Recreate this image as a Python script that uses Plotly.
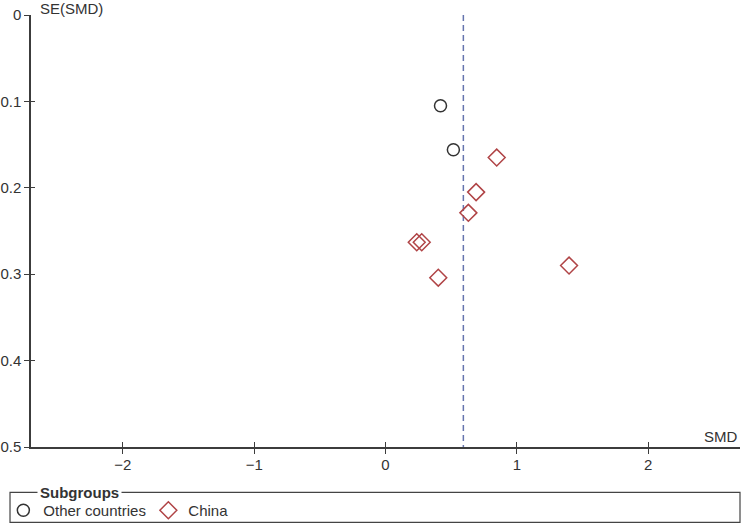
import plotly.graph_objects as go

# funnel plot data (SMD vs SE)
other_smd = [0.419, 0.517]
other_se = [0.105, 0.156]
china_smd = [0.847, 0.690, 0.631, 0.238, 0.276, 0.402, 1.398]
china_se = [0.165, 0.205, 0.229, 0.263, 0.263, 0.304, 0.290]
pooled_smd = 0.593
x_ticks = [-2, -1, 0, 1, 2]
y_ticks = [0, 0.1, 0.2, 0.3, 0.4, 0.5]

font_c = '#333333'
axis_c = '#3c3c3c'
fnt = 'Liberation Sans, Arial, sans-serif'

fig = go.Figure()

fig.add_trace(go.Scatter(x=[pooled_smd, pooled_smd], y=[0, 0.5], mode='lines',
                         line=dict(color='#6574ae', width=1.5, dash='6px,4px'),
                         showlegend=False, hoverinfo='skip'))
fig.add_trace(go.Scatter(x=other_smd, y=other_se, mode='markers', name='Other countries',
                         marker=dict(symbol='circle-open', size=12, color='#333333',
                                     line=dict(width=1.5))))
fig.add_trace(go.Scatter(x=china_smd, y=china_se, mode='markers', name='China',
                         marker=dict(symbol='diamond-open', size=13, color='#b04446',
                                     line=dict(width=1.5))))
# dummy trace so the overlay axes (inner half of ticks) are drawn
fig.add_trace(go.Scatter(x=[None], y=[None], xaxis='x2', yaxis='y2',
                         showlegend=False, hoverinfo='skip'))

axis_common = dict(showgrid=False, zeroline=False, showline=True, linecolor=axis_c,
                   linewidth=1.5, ticks='outside', ticklen=5, tickwidth=1.2,
                   tickcolor=axis_c, automargin=False,
                   tickfont=dict(size=15, color=font_c, family=fnt))

fig.update_layout(
    width=744, height=527,
    margin=dict(l=31, r=4, t=15, b=79.5, autoexpand=False),
    plot_bgcolor='white', paper_bgcolor='white',
    font=dict(family=fnt, color=font_c, size=15),
    xaxis=dict(range=[-2.7, 2.7], tickvals=x_ticks, anchor='y', ticklabelstandoff=-2,
               **axis_common),
    yaxis=dict(range=[0.5, 0], tickvals=y_ticks, anchor='x', **axis_common),
    xaxis2=dict(range=[-2.7, 2.7], tickvals=x_ticks, overlaying='x', anchor='y',
                side='bottom', showgrid=False, zeroline=False, showline=False,
                ticks='inside', ticklen=5, tickwidth=1.2, tickcolor=axis_c,
                showticklabels=False, automargin=False),
    yaxis2=dict(range=[0.5, 0], tickvals=y_ticks, overlaying='y', anchor='x',
                side='left', showgrid=False, zeroline=False, showline=False,
                ticks='inside', ticklen=4, tickwidth=1.2, tickcolor=axis_c,
                showticklabels=False, automargin=False),
    legend=dict(orientation='h', x=-0.039, xanchor='left', y=-0.147, yanchor='middle',
                font=dict(size=15, color=font_c, family=fnt), bgcolor='rgba(0,0,0,0)',
                itemwidth=30, tracegroupgap=0, entrywidth=100, entrywidthmode='pixels'),
    showlegend=True,
)

# legend frame with title sitting on the top border
fig.add_shape(type='rect', xref='paper', yref='paper', x0=-0.0296, x1=1.0,
              y0=-0.1746, y1=-0.1052, line=dict(color='#444444', width=1.2))
fig.add_annotation(text='<b>Subgroups</b>', xref='paper', yref='paper', x=0.008, y=-0.1052,
                   xanchor='left', yanchor='middle', showarrow=False, bgcolor='white',
                   borderpad=2, font=dict(size=15, color=font_c, family=fnt))

fig.add_annotation(text='SE(SMD)', xref='paper', yref='paper', x=0.01, y=1.016,
                   xanchor='left', yanchor='middle', showarrow=False,
                   font=dict(size=15, color=font_c, family=fnt))
fig.add_annotation(text='SMD', xref='paper', yref='paper', x=1.0, y=0.025,
                   xanchor='right', yanchor='middle', showarrow=False,
                   font=dict(size=15, color=font_c, family=fnt))

# drop the default 8px body margin so the figure fills the window
fig.write_html("out.html", config={'displayModeBar': False},
               post_script="document.body.style.margin='0px';")
